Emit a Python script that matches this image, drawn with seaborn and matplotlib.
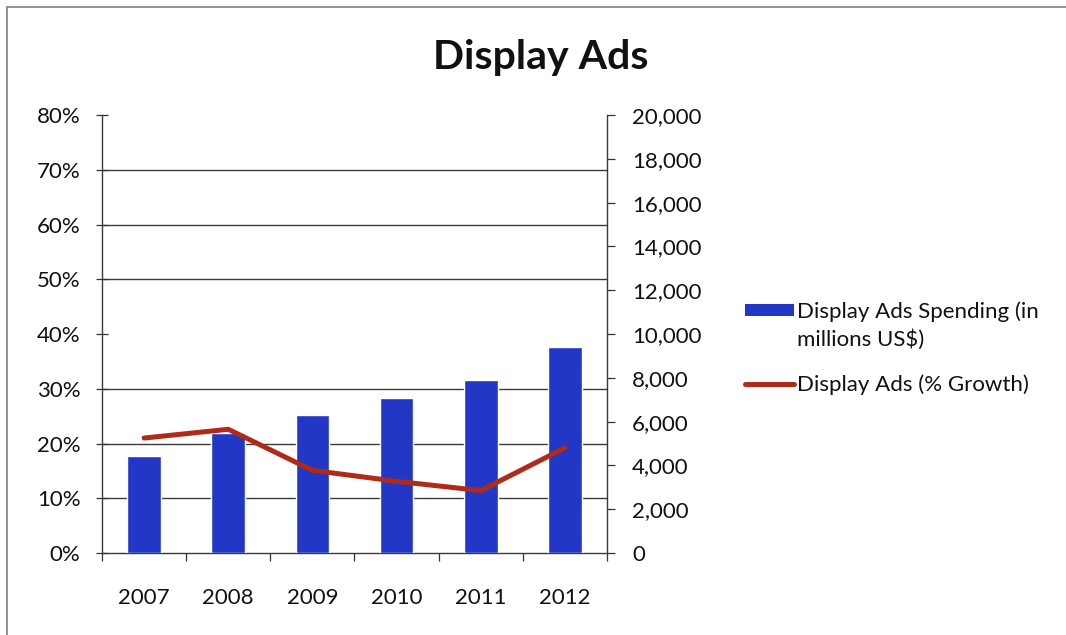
import numpy as np
import pandas as pd
import matplotlib
matplotlib.use("Agg")
import matplotlib.pyplot as plt
from matplotlib.ticker import MultipleLocator, FixedLocator, FuncFormatter, NullFormatter
from matplotlib.patches import Rectangle
from matplotlib.lines import Line2D
from matplotlib.legend_handler import HandlerPatch
import seaborn as sns

# Data
years = ["2007", "2008", "2009", "2010", "2011", "2012"]
spending = [4450, 5500, 6300, 7100, 7900, 9400]          # millions US$
growth_pct = [21.0, 22.6, 15.1, 13.1, 11.4, 19.2]        # % growth

spend_label = "Display Ads Spending (in\nmillions US$)"
growth_label = "Display Ads (% Growth)"

sns.set_theme(style="white")
plt.rcParams["font.family"] = ["Lato", "DejaVu Sans"]

bar_color = "#2237C6"
line_color = "#B02A18"
grid_color = "#3a3a3a"
text_color = "#111111"
FS = 16
LW = 3.6

df = pd.DataFrame({"year": years, "spending": spending, "growth": growth_pct})

fig = plt.figure(figsize=(10.66, 6.35), dpi=100)
fig.patch.set_facecolor("white")

# Chart frame (left and top edges)
fx, fy = 7 / 1066, 1 - 7 / 635
fig.add_artist(Line2D([fx, fx], [-0.02, fy], transform=fig.transFigure,
                      color="#8a8a8a", linewidth=1.3))
fig.add_artist(Line2D([fx, 1.02], [fy, fy], transform=fig.transFigure,
                      color="#8a8a8a", linewidth=1.3))

ax = fig.add_axes([0.0957, 0.1291, 0.4737, 0.6898])

# Bars: spending (read against the right-hand axis)
sns.barplot(data=df, x="year", y="spending", color=bar_color, width=0.4,
            saturation=1, ax=ax, zorder=3)

# Line: growth (read against the left-hand axis)
ax2 = ax.twinx()
sns.pointplot(data=df, x="year", y="growth", color=line_color, markers="",
              linestyles="-", errorbar=None, ax=ax2, linewidth=LW)

# --- spending axis (right) ---
ax.set_ylim(0, 20000)
ax.set_xlim(-0.5, 5.5)
ax.yaxis.tick_right()
ax.yaxis.set_major_locator(MultipleLocator(2000))
ax.yaxis.set_major_formatter(FuncFormatter(lambda v, p: f"{int(v):,}"))
# gridlines follow the percentage scale (every 10% = 2,500)
ax.yaxis.set_minor_locator(MultipleLocator(2500))
ax.yaxis.set_minor_formatter(NullFormatter())
ax.grid(False)
ax.grid(True, axis="y", which="minor", color=grid_color, linewidth=1.0, zorder=0)
ax.set_axisbelow(True)
ax.tick_params(axis="y", which="major", direction="out", length=6, width=0.9,
               color="#333333", labelsize=FS, labelcolor=text_color, pad=12,
               right=True, left=False, labelright=True, labelleft=False)
ax.tick_params(axis="y", which="minor", length=0, left=False, right=False)

# x-axis: labels centred on categories, tick marks between them
ax.xaxis.set_major_locator(FixedLocator(np.arange(-0.5, len(years), 1.0)))
ax.xaxis.set_major_formatter(NullFormatter())
ax.xaxis.set_minor_locator(FixedLocator(np.arange(len(years))))
ax.xaxis.set_minor_formatter(FuncFormatter(lambda v, p: years[int(round(v))]))
ax.tick_params(axis="x", which="major", direction="out", length=6, width=0.9,
               color="#333333", bottom=True)
ax.tick_params(axis="x", which="minor", length=0, labelsize=FS,
               labelcolor=text_color, pad=25, bottom=True)
ax.set_xlabel("")
ax.set_ylabel("")

for side in ["left", "right", "bottom"]:
    ax.spines[side].set_visible(True)
    ax.spines[side].set_color("#3a3a3a")
    ax.spines[side].set_linewidth(1.0)
ax.spines["top"].set_visible(False)

# --- growth axis (left) ---
ax2.set_xlim(-0.5, 5.5)
ax2.set_ylim(0, 80)
ax2.yaxis.tick_left()
ax2.yaxis.set_major_locator(MultipleLocator(10))
ax2.yaxis.set_major_formatter(FuncFormatter(lambda v, p: f"{int(v)}%"))
ax2.tick_params(axis="y", direction="inout", length=9, width=0.9,
                color="#333333", labelsize=FS, labelcolor=text_color, pad=11,
                left=True, right=False, labelleft=True, labelright=False)
ax2.tick_params(axis="x", which="both", bottom=False, top=False,
                labelbottom=False, labeltop=False)
ax2.set_xlabel("")
ax2.set_ylabel("")
ax2.grid(False)
for s in ax2.spines.values():
    s.set_visible(False)

# Title
fig.text(541 / 1066, 1 - 58 / 635, "Display Ads", ha="center", va="center",
         fontsize=29.5, fontweight="bold", color=text_color)


# Legend: the bar swatch sits level with the first line of its two-line label
def top_aligned_patch(legend, orig_handle, xdescent, ydescent, width, height, fontsize):
    return Rectangle((-xdescent, -ydescent + 0.72 * fontsize), width, height)


handles = [Rectangle((0, 0), 1, 1, facecolor=bar_color, edgecolor="none"),
           Line2D([0], [0], color=line_color, linewidth=LW)]
leg = fig.legend(handles, [spend_label, growth_label], loc="center left",
                 bbox_to_anchor=(725 / 1066, 1 - 348 / 635), frameon=False,
                 fontsize=FS, handlelength=2.2, handleheight=0.45,
                 handletextpad=0.15, labelspacing=1.1, labelcolor=text_color,
                 handler_map={Rectangle: HandlerPatch(patch_func=top_aligned_patch)})
for t in leg.get_texts():
    t.set_linespacing(1.45)

fig.savefig("out.png", dpi=100, facecolor="white")
